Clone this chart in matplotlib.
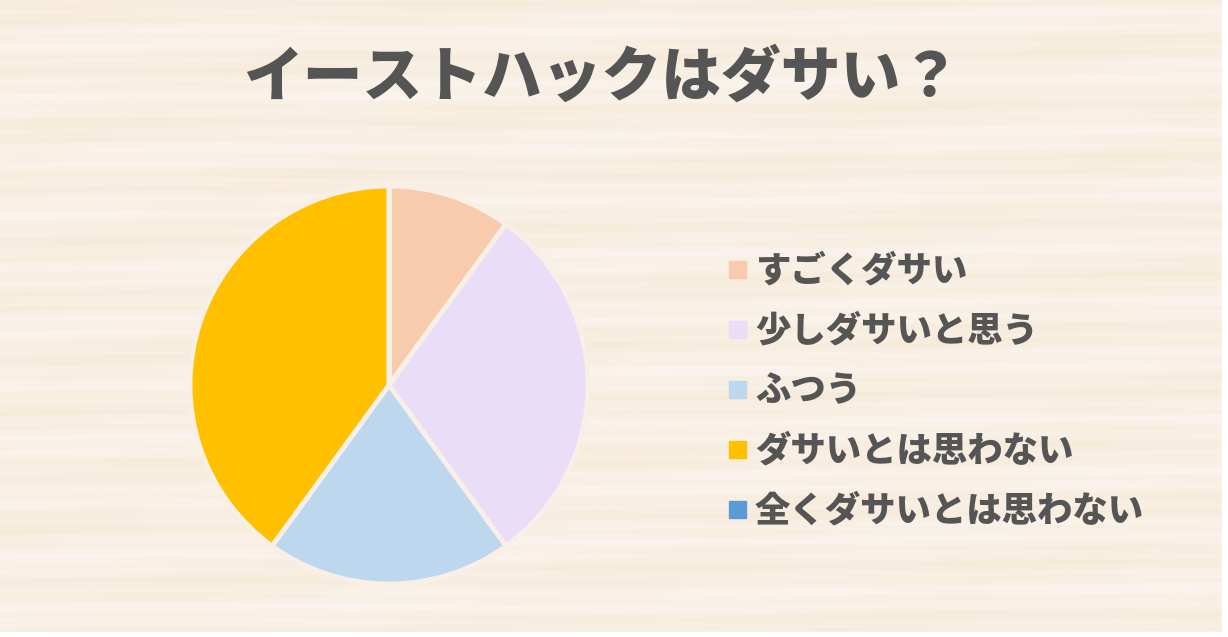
import numpy as np
import matplotlib
matplotlib.use("Agg")
import matplotlib.pyplot as plt
from matplotlib.patches import Rectangle

plt.rcParams['font.family'] = ['Noto Sans CJK JP', 'DejaVu Sans']

title = "イーストハックはダサい？"
categories = ["すごくダサい", "少しダサいと思う", "ふつう", "ダサいとは思わない", "全くダサいとは思わない"]
values = [10, 30, 20, 40, 0]
colors = ["#F8CBAD", "#EADDF8", "#BDD7EE", "#FFC000", "#5B9BD5"]

W, H = 1228, 637
fig = plt.figure(figsize=(W / 100, H / 100), dpi=100)

# wood-like background texture (deterministic)
bg = fig.add_axes([0, 0, 1, 1])
yy, xx = np.mgrid[0:H, 0:W]
t = (np.sin(yy * 0.37 + 0.8 * np.sin(xx / 140.0)) * 0.3
     + np.sin(yy * 0.11 + xx / 400.0) * 0.4
     + np.sin(yy * 0.9 + 2.0 * np.sin(xx / 90.0)) * 0.15
     + np.sin(xx / 60.0 + yy * 0.05) * 0.15)
t = (t - t.min()) / (t.max() - t.min())
c1 = np.array([251, 245, 240]) / 255.0
c2 = np.array([246, 234, 216]) / 255.0
img = c1[None, None, :] * (1 - t[..., None]) + c2[None, None, :] * t[..., None]
bg.imshow(img, aspect='auto', extent=[0, W, H, 0], interpolation='bilinear')
bg.add_patch(Rectangle((W - 6, 0), 6, H, color='white'))
bg.add_patch(Rectangle((0, H - 5), W, 5, color='white'))
bg.set_xlim(0, W)
bg.set_ylim(H, 0)
bg.axis('off')

# pie
cx, cy, r = 389, 385, 199
ax = fig.add_axes([(cx - r) / W, (H - cy - r) / H, 2 * r / W, 2 * r / H])
ax.pie(values, colors=colors, startangle=90, counterclock=False, radius=1.0,
       wedgeprops=dict(edgecolor="#F8EFE7", linewidth=3.5))
ax.set_xlim(-1.0, 1.0)
ax.set_ylim(-1.0, 1.0)
ax.set_aspect('equal')
ax.axis('off')

# title
bg.text(602, 78, title, ha='center', va='center', fontsize=43,
        fontweight='heavy', color='#555555')

# legend
y0, dy = 270, 60
for i, (lab, col) in enumerate(zip(categories, colors)):
    y = y0 + i * dy
    bg.add_patch(Rectangle((729, y - 9), 17, 17, color=col))
    bg.text(755, y, lab, ha='left', va='center', fontsize=25.5,
            fontweight='heavy', color='#555555')

fig.savefig("out.png", dpi=100)
